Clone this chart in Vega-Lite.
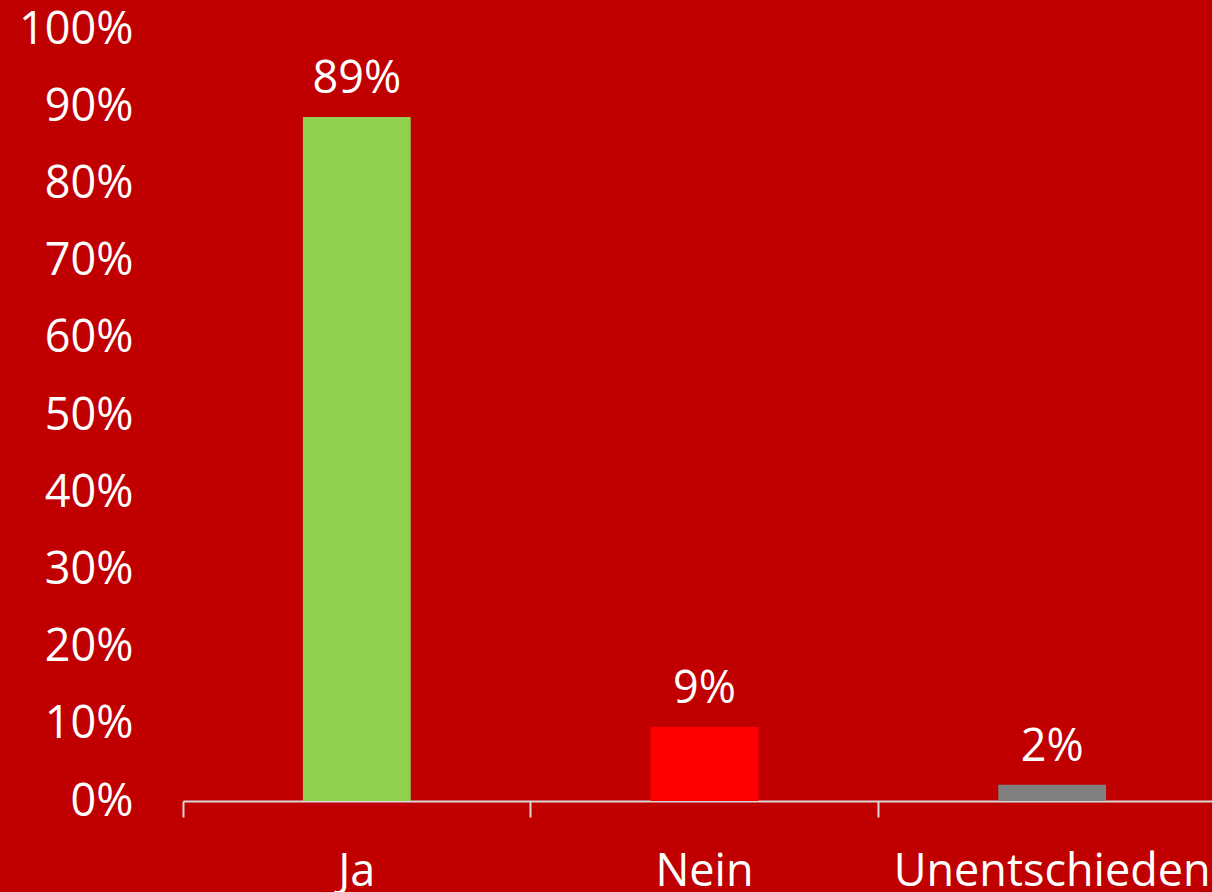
{
  "$schema": "https://vega.github.io/schema/vega-lite/v6.json",
  "width": 1029,
  "height": 772,
  "autosize": {"type": "none"},
  "padding": {"left": 183, "top": 29, "right": 0, "bottom": 91},
  "background": "#C00000",
  "config": {
    "view": {"stroke": null},
    "font": "Open Sans"
  },
  "data": {
    "values": [
      {"antwort": "Ja", "anteil": 0.886, "label": "89%", "farbe": "#92D050"},
      {"antwort": "Nein", "anteil": 0.096, "label": "9%", "farbe": "#FF0000"},
      {"antwort": "Unentschieden", "anteil": 0.021, "label": "2%", "farbe": "#808080"}
    ]
  },
  "encoding": {
    "x": {
      "field": "antwort",
      "type": "nominal",
      "sort": ["Ja", "Nein", "Unentschieden"],
      "scale": {"range": [0, 1043], "paddingInner": 0, "paddingOuter": 0},
      "axis": {
        "title": null,
        "bandPosition": 0,
        "domainColor": "#D9D9D9",
        "domainWidth": 2,
        "tickColor": "#D9D9D9",
        "tickWidth": 2,
        "tickSize": 16,
        "labelAngle": 0,
        "labelFontSize": 45,
        "labelColor": "#FFFFFF",
        "labelBaseline": "alphabetic",
        "labelPadding": 68,
        "labelLimit": 0,
        "labelOverlap": false,
        "labelBound": false,
        "labelFont": "Open Sans"
      }
    },
    "y": {
      "field": "anteil",
      "type": "quantitative",
      "scale": {"domain": [0, 1], "nice": false},
      "axis": {
        "title": null,
        "values": [0, 0.1, 0.2, 0.3, 0.4, 0.5, 0.6, 0.7, 0.8, 0.9, 1],
        "format": ".0%",
        "domain": false,
        "ticks": false,
        "grid": false,
        "labelFontSize": 45,
        "labelColor": "#FFFFFF",
        "labelPadding": 50,
        "labelFont": "Open Sans"
      }
    }
  },
  "layer": [
    {
      "mark": {"type": "bar", "width": {"band": 0.31}},
      "encoding": {
        "color": {"field": "farbe", "type": "nominal", "scale": null, "legend": null}
      }
    },
    {
      "mark": {"type": "text", "baseline": "alphabetic", "dy": -24, "fontSize": 45, "color": "#FFFFFF", "font": "Open Sans"},
      "encoding": {
        "text": {"field": "label", "type": "nominal"}
      }
    }
  ]
}
